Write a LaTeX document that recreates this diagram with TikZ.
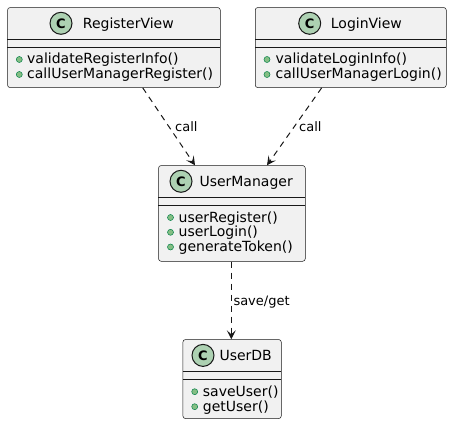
\documentclass[tikz,border=0pt]{standalone}
\usepackage{fontspec}
\setmainfont{DejaVu Sans}
\usetikzlibrary{arrows.meta}
\definecolor{boxfill}{HTML}{F1F1F1}
\definecolor{linec}{HTML}{181818}
\definecolor{circfill}{HTML}{ADD1B2}
\definecolor{dotfill}{HTML}{84BE84}
\definecolor{dotline}{HTML}{038048}
\tikzset{
  classbox/.style={draw=linec, fill=boxfill, line width=0.5pt, rounded corners=2.5pt, inner sep=0pt, anchor=north west},
  sepline/.style={draw=linec, line width=0.5pt},
  ccircle/.style={circle, draw=linec, fill=circfill, line width=1pt, minimum size=22pt, inner sep=0pt, font=\fontsize{13}{13}\selectfont\bfseries},
  cname/.style={anchor=base west, inner sep=0pt, font=\fontsize{14}{16}\selectfont},
  meth/.style={anchor=base west, inner sep=0pt, font=\fontsize{14}{16}\selectfont},
  mdot/.style={circle, draw=dotline, fill=dotfill, line width=0.5pt, minimum size=6pt, inner sep=0pt},
  dep/.style={draw=linec, line width=1pt, dash pattern=on 6pt off 5pt, -{Stealth[length=9pt,width=9pt,inset=4pt]}},
  elabel/.style={anchor=base west, inner sep=0pt, font=\fontsize{13}{15}\selectfont},
}
\begin{document}
\begin{tikzpicture}[x=1pt,y=-1pt]
\useasboundingbox (0,0) rectangle (452,425);
% RegisterView
\node[classbox, minimum width=212.7pt, minimum height=80pt] (rv) at (7.3,7.3) {};
\draw[sepline] (7.3,39.3) -- (220,39.3);
\draw[sepline] (7.3,47.3) -- (220,47.3);
\node[ccircle] (rvc) at (61,23.3) {C};
\node[cname] (rvn) at (82.7,28.3) {RegisterView};
\node[mdot] (rvd1) at (19.3,59.5) {};
\node[meth] (rvm1) at (27,64) {validateRegisterInfo()};
\node[mdot] (rvd2) at (19.3,74.5) {};
\node[meth] (rvm2) at (27,79) {callUserManagerRegister()};
% LoginView
\node[classbox, minimum width=191pt, minimum height=80pt] (lv) at (255,7.3) {};
\draw[sepline] (255,39.3) -- (446,39.3);
\draw[sepline] (255,47.3) -- (446,47.3);
\node[ccircle] (lvc) at (309.7,23.3) {C};
\node[cname] (lvn) at (330.7,28.3) {LoginView};
\node[mdot] (lvd1) at (267,59.5) {};
\node[meth] (lvm1) at (275.5,64) {validateLoginInfo()};
\node[mdot] (lvd2) at (267,74.5) {};
\node[meth] (lvm2) at (275.5,79) {callUserManagerLogin()};
% UserManager
\node[classbox, minimum width=146.7pt, minimum height=95.7pt] (um) at (158.3,165.3) {};
\draw[sepline] (158.3,197.3) -- (305,197.3);
\draw[sepline] (158.3,205.7) -- (305,205.7);
\node[ccircle] (umc) at (181,181.3) {C};
\node[cname] (umn) at (199.3,186.3) {UserManager};
\node[mdot] (umd1) at (170.5,217.5) {};
\node[meth] (umm1) at (178.5,222) {userRegister()};
\node[mdot] (umd2) at (170.5,232.3) {};
\node[meth] (umm2) at (178.5,236.8) {userLogin()};
\node[mdot] (umd3) at (170.5,247) {};
\node[meth] (umm3) at (178.5,251.5) {generateToken()};
% UserDB
\node[classbox, minimum width=98.3pt, minimum height=79pt] (db) at (182.7,339.3) {};
\draw[sepline] (182.7,371.5) -- (281,371.5);
\draw[sepline] (182.7,379.3) -- (281,379.3);
\node[ccircle] (dbc) at (203,355.4) {C};
\node[cname] (dbn) at (219.3,360.4) {UserDB};
\node[mdot] (dbd1) at (194.7,391.7) {};
\node[meth] (dbm1) at (202.7,396.2) {saveUser()};
\node[mdot] (dbd2) at (194.7,406.7) {};
\node[meth] (dbm2) at (202.7,411.2) {getUser()};
% connectors
\draw[dep] ([xshift=135.4pt]rv.south west) -- ([xshift=36.7pt]um.north west);
\node[elabel] (l1) at (175,131.5) {call};
\draw[dep] ([xshift=66.7pt]lv.south west) -- ([xshift=108.7pt]um.north west);
\node[elabel] (l2) at (299,131.5) {call};
\draw[dep] ([xshift=73pt]um.south west) -- ([xshift=48.6pt]db.north west);
\node[elabel] (l3) at (233.3,305.5) {save/get};
\end{tikzpicture}
\end{document}
